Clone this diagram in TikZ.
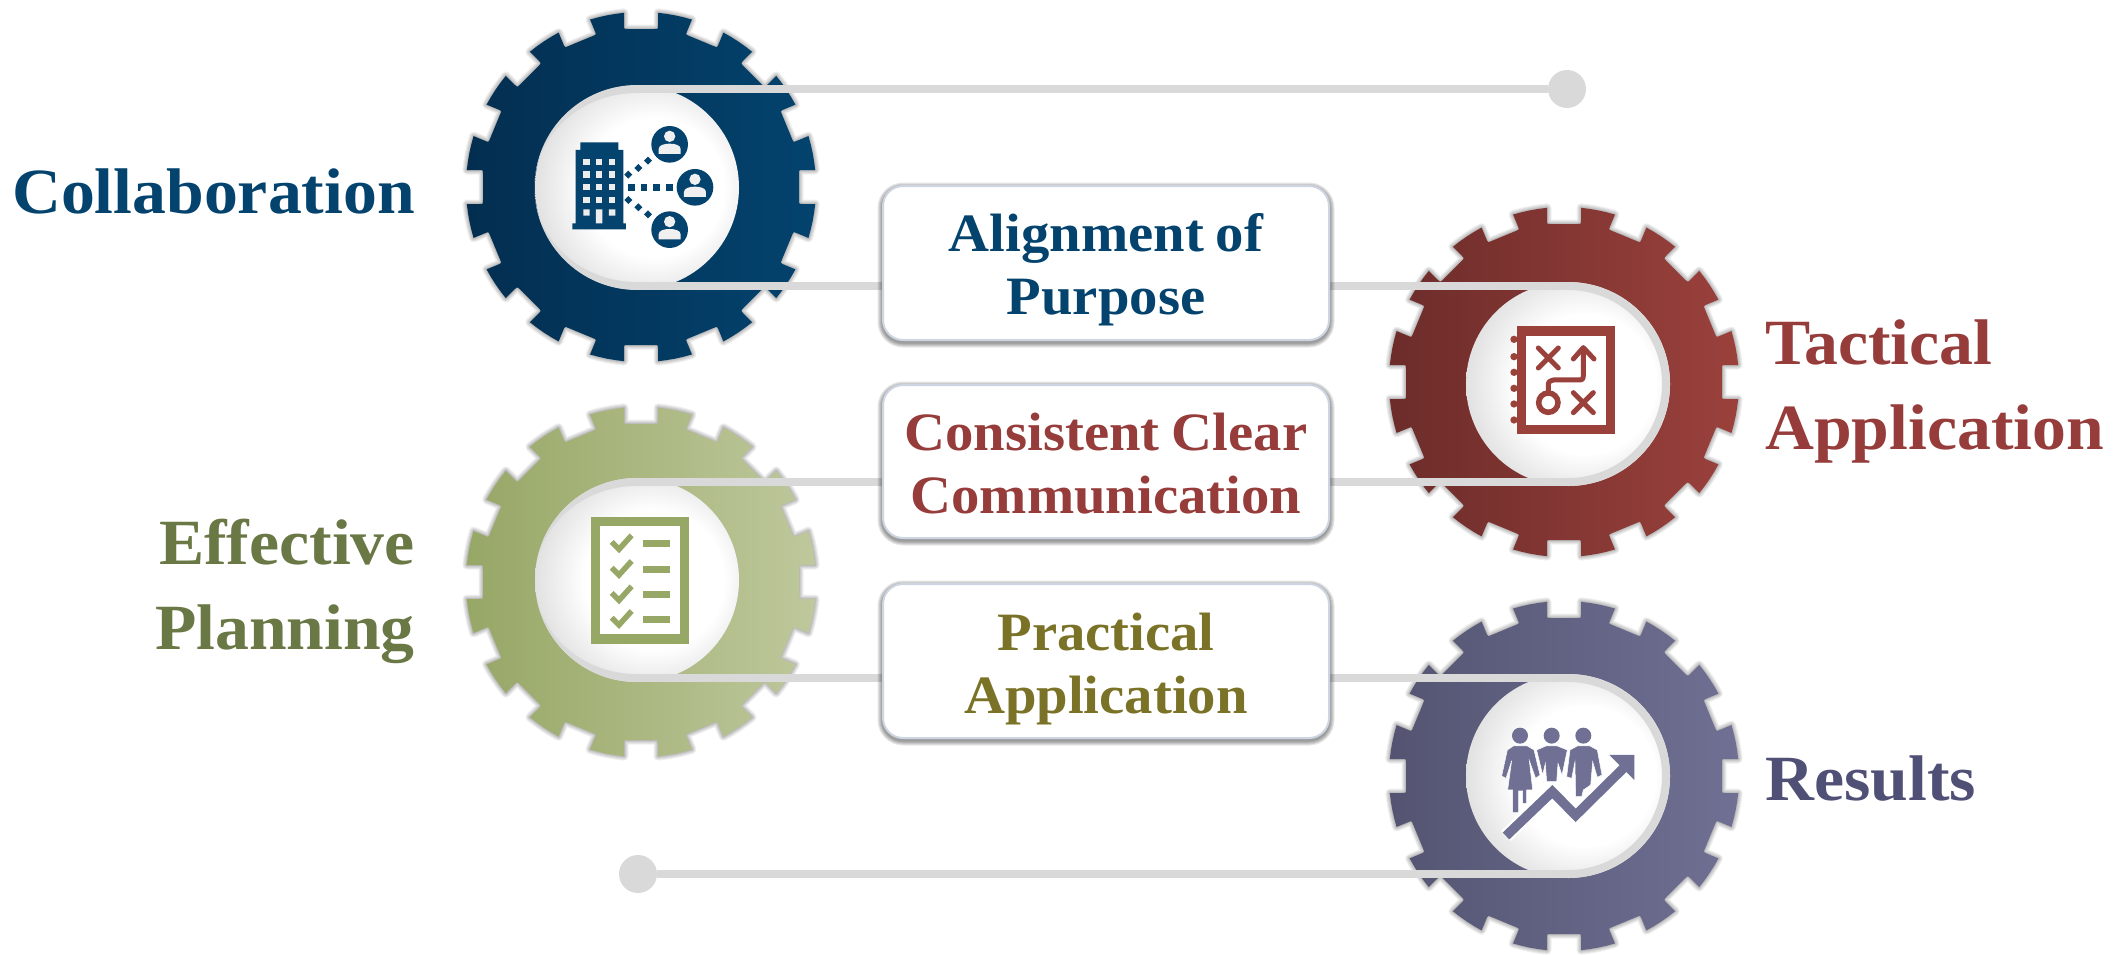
\documentclass[tikz,border=0pt]{standalone}
\usepackage{fontspec}
\setmainfont[FakeStretch=1.05,WordSpace=0.85]{Liberation Serif}
\definecolor{navy}{RGB}{3,67,110}
\definecolor{navyd}{RGB}{3,46,80}
\definecolor{brick}{RGB}{155,65,60}
\definecolor{brickd}{RGB}{108,44,42}
\definecolor{sage}{RGB}{151,167,102}
\definecolor{sagel}{RGB}{190,200,156}
\definecolor{slate}{RGB}{112,112,148}
\definecolor{slated}{RGB}{84,84,114}
\definecolor{tblue}{RGB}{3,67,110}
\definecolor{tred}{RGB}{150,60,58}
\definecolor{tgreen}{RGB}{105,120,68}
\definecolor{tslate}{RGB}{80,80,118}
\definecolor{tolive}{RGB}{122,114,38}
\definecolor{beltc}{RGB}{217,217,217}
\definecolor{boxedge}{RGB}{205,212,226}
\pgfdeclareradialshading{discshade}{\pgfpoint{6.5bp}{0bp}}{color(0bp)=(white);color(17bp)=(white);color(32bp)=(black!16);color(50bp)=(black!16)}
\pgfdeclarelayer{under}\pgfdeclarelayer{mid}\pgfdeclarelayer{shad}
\pgfsetlayers{under,mid,shad,main}
\newcommand\gearpath{([rotate=-11.25]175,0) foreach \a in {0,22.5,...,337.5} {
  -- ([rotate=\a-8.4]175,0) -- ([rotate=\a]174.2,17) -- ([rotate=\a]162,17)
  .. controls ([rotate=\a]158,17) .. ([rotate=\a]158,13) -- ([rotate=\a]158,-13)
  .. controls ([rotate=\a]158,-17) .. ([rotate=\a]162,-17) -- ([rotate=\a]174.2,-17)
  -- ([rotate=\a+8.4]175,0) -- ([rotate=\a+11.25]175,0) } -- cycle}
\newcommand\gear[4]{\begin{scope}[shift={(#1,#2)}]
  \foreach \w in {9,7,5,3,1.5}{\draw[black,opacity=.06,line width=\w pt,line join=round] \gearpath;}
  \shade[left color=#3,right color=#4] \gearpath;
\end{scope}}
\newcommand\cardshadow[4]{\foreach \w in {11,9,7,5,3}{\draw[black,opacity=.09,line width=\w pt,rounded corners=20pt] (#1,#2+2) rectangle (#3,#4+2);}}
\tikzset{
  belt/.style={draw=beltc,line width=8pt},
  enddot/.style={circle,fill=beltc,minimum size=38pt,inner sep=0pt},
  card/.style={draw=boxedge,line width=2pt,fill=white,rounded corners=20pt,minimum width=446pt,inner sep=0pt},
  cardtext/.style={inner sep=0pt,align=center,font=\fontsize{54}{63}\selectfont\bfseries},
  lab/.style={inner sep=0pt,font=\fontsize{64.5}{85}\selectfont\bfseries},
}
\newcommand\person[2]{\begin{scope}[shift={(#1,#2)}]
  \fill[navy] (0,0) circle[radius=55];
  \fill[white!94!black] (0,-24) circle[radius=17];
  \fill[white!94!black] (-33,29) -- (-33,14) .. controls (-33,2) and (-15,-2) .. (0,-2) .. controls (15,-2) and (33,2) .. (33,14) -- (33,29) -- cycle;
\end{scope}}
\begin{document}
\begin{tikzpicture}[x=1pt,y=-1pt]
\useasboundingbox (0,0) rectangle (2124,954);
\begin{pgfonlayer}{under}
\fill[white] (0,0) rectangle (2124,954);
\gear{641}{187}{navyd}{navy}
\gear{1564}{382}{brickd}{brick}
\gear{641}{582}{sage}{sagel}
\gear{1564}{776}{slated}{slate}
\shade[shading=discshade] (637,187.5) circle[radius=102];
\shade[shading=discshade] (1568,384) circle[radius=102];
\shade[shading=discshade] (637,580) circle[radius=102];
\shade[shading=discshade] (1568,776) circle[radius=102];
\end{pgfonlayer}
\coordinate (g1t) at (637,89);
\coordinate (g1b) at (637,286);
\coordinate (g2t) at (1568,286);
\coordinate (g2b) at (1568,482);
\coordinate (g3t) at (637,482);
\coordinate (g3b) at (637,678);
\coordinate (g4t) at (1568,678);
\coordinate (g4b) at (1568,874);
\node[enddot] (d1) at (1567,89) {};
\node[enddot] (d2) at (638,874) {};
\begin{pgfonlayer}{shad}
\cardshadow{883}{186}{1329}{340}
\cardshadow{883}{385}{1329}{538}
\cardshadow{883}{584}{1329}{738}
\end{pgfonlayer}
\node[card,minimum height=154pt] (b1) at (1106,263) {};
\node[card,minimum height=153pt] (b2) at (1106,461.5) {};
\node[card,minimum height=154pt] (b3) at (1106,661) {};
\node[cardtext,text=tblue] (t1) at (1106,270) {Alignment of\\Purpose};
\node[cardtext,text=tred] (t2) at (1106,464) {Consistent Clear\\Communication};
\node[cardtext,text=tolive] (t3) at (1106,669) {Practical\\Application};
\begin{pgfonlayer}{mid}
\fill[beltc] (637,85) arc[start angle=90,end angle=270,radius=102.5pt] -- (637,282) arc[start angle=270,end angle=90,x radius=102.5pt,y radius=94.5pt] -- cycle;
\fill[beltc] (637,478) arc[start angle=90,end angle=270,radius=102pt] -- (637,674) arc[start angle=270,end angle=90,x radius=102pt,y radius=94pt] -- cycle;
\draw[belt] (g2t) arc[start angle=90,end angle=-90,radius=98pt];
\draw[belt] (g4t) arc[start angle=90,end angle=-90,radius=98pt];
\draw[belt] (g1t) -- (d1);
\draw[belt] (g4b) -- (d2);
\draw[belt] (g1b) -- (g1b -| b1.west);
\draw[belt] (g1b -| b1.east) -- (g2t);
\draw[belt] (g3t) -- (g3t -| b2.west);
\draw[belt] (g3t -| b2.east) -- (g2b);
\draw[belt] (g3b) -- (g3b -| b3.west);
\draw[belt] (g3b -| b3.east) -- (g4t);
\end{pgfonlayer}
% labels
\node[lab,text=tblue,anchor=east] (l1) at (415,191) {Collaboration};
\node[lab,text=tgreen,align=right,anchor=east] (l2) at (415,591) {Effective\\Planning};
\node[lab,text=tred,align=left,anchor=west] (l3) at (1765,391) {Tactical\\Application};
\node[lab,text=tslate,anchor=west] (l4) at (1765,779) {Results};
% icon 1
\begin{scope}[shift={(440,0)},x=.3333pt,y=-.3333pt]
\fill[navy] (397,670) rectangle (558,688) (407,450) rectangle (550,670) (421,427) rectangle (535,450);
\foreach \x in {430,468,507}{\foreach \y in {476,514,552,590}{\fill[white!93!black] (\x,\y) rectangle +(19,19);}}
\fill[white!93!black] (430,628) rectangle +(19,19) (507,628) rectangle +(19,19) (468,628) rectangle (487,670);
\foreach \x/\y in {565/524,595/504,624/482,565/600,595/622,624/643}{\fill[navy] (\x-12,\y) -- (\x,\y-12) -- (\x+12,\y) -- (\x,\y+12) -- cycle;}
\foreach \x in {564,602,640,678}{\fill[navy] (\x,552) rectangle +(20,20);}
\person{689}{433}\person{765}{562}\person{689}{689}
\end{scope}
% icon 2
\begin{scope}[shift={(1370,190)},x=.3333pt,y=-.3333pt]
\fill[brick] (441,409) rectangle (735,732);
\fill[white] (469,438) rectangle (707,704);
\foreach \y in {448,500,547,595,642,690}{\fill[brick] (432,\y) circle[radius=11];}
\draw[brick,line width=5pt,line cap=round] (505,474) -- (565,534) (565,474) -- (505,534) (610,608) -- (670,668) (670,608) -- (610,668);
\draw[brick,line width=5.5pt] (535,638) circle[radius=29];
\draw[brick,line width=5pt,line cap=round,line join=round] (535,605) -- (535,590) .. controls (535,575) .. (550,570) -- (620,570) .. controls (640,570) .. (640,550) -- (640,475);
\draw[brick,line width=5pt,line cap=round,line join=round] (610,507) -- (640,473) -- (672,507);
\end{scope}
% icon 3
\begin{scope}[shift={(440,390)},x=.3333pt,y=-.3333pt]
\fill[sage] (453,381) rectangle (747,761);
\fill[white] (481,409) rectangle (719,733);
\foreach \y in {460,537,613,687}{
  \draw[sage,line width=5.5pt] (515,456+\y-460) -- (537,478+\y-460) -- (575,436+\y-460);
  \fill[sage] (609,\y-10) rectangle (690,\y+11);
}
\end{scope}
% icon 4
\begin{scope}[shift={(1370,590)},x=.3333pt,y=-.3333pt]
\foreach \x in {450,545,640}{\fill[slate] (\x,437) circle[radius=24];}
\filldraw[slate,draw=white,line width=.5pt] (430,468) -- (472,468) -- (492,480) -- (510,555) -- (497,565) -- (478,512) -- (488,600) -- (470,600) -- (470,640) -- (458,640) -- (458,603) -- (446,603) -- (446,668) -- (428,668) -- (428,600) -- (413,600) -- (425,512) -- (408,565) -- (395,558) -- (412,480) -- cycle;
\filldraw[slate,draw=white,line width=.5pt] (528,468) -- (562,468) -- (592,480) -- (576,555) -- (564,520) -- (560,575) -- (530,575) -- (526,520) -- (518,555) -- (500,480) -- cycle;
\filldraw[slate,draw=white,line width=.5pt] (622,468) -- (660,468) -- (682,480) -- (696,555) -- (682,562) -- (668,515) -- (662,585) -- (640,600) -- (635,620) -- (617,620) -- (615,515) -- (605,565) -- (590,560) -- (600,480) -- cycle;
\draw[white,line width=14pt] (408,738) -- (547,605) -- (617,676) -- (770,525);
\draw[slate,line width=9.5pt] (408,738) -- (547,605) -- (617,676) -- (770,525);
\fill[white] (700,480) -- (793,480) -- (793,495) -- (718,495) -- cycle;
\fill[slate] (718,495) -- (793,495) -- (793,570) -- cycle;
\end{scope}
\end{tikzpicture}
\end{document}
